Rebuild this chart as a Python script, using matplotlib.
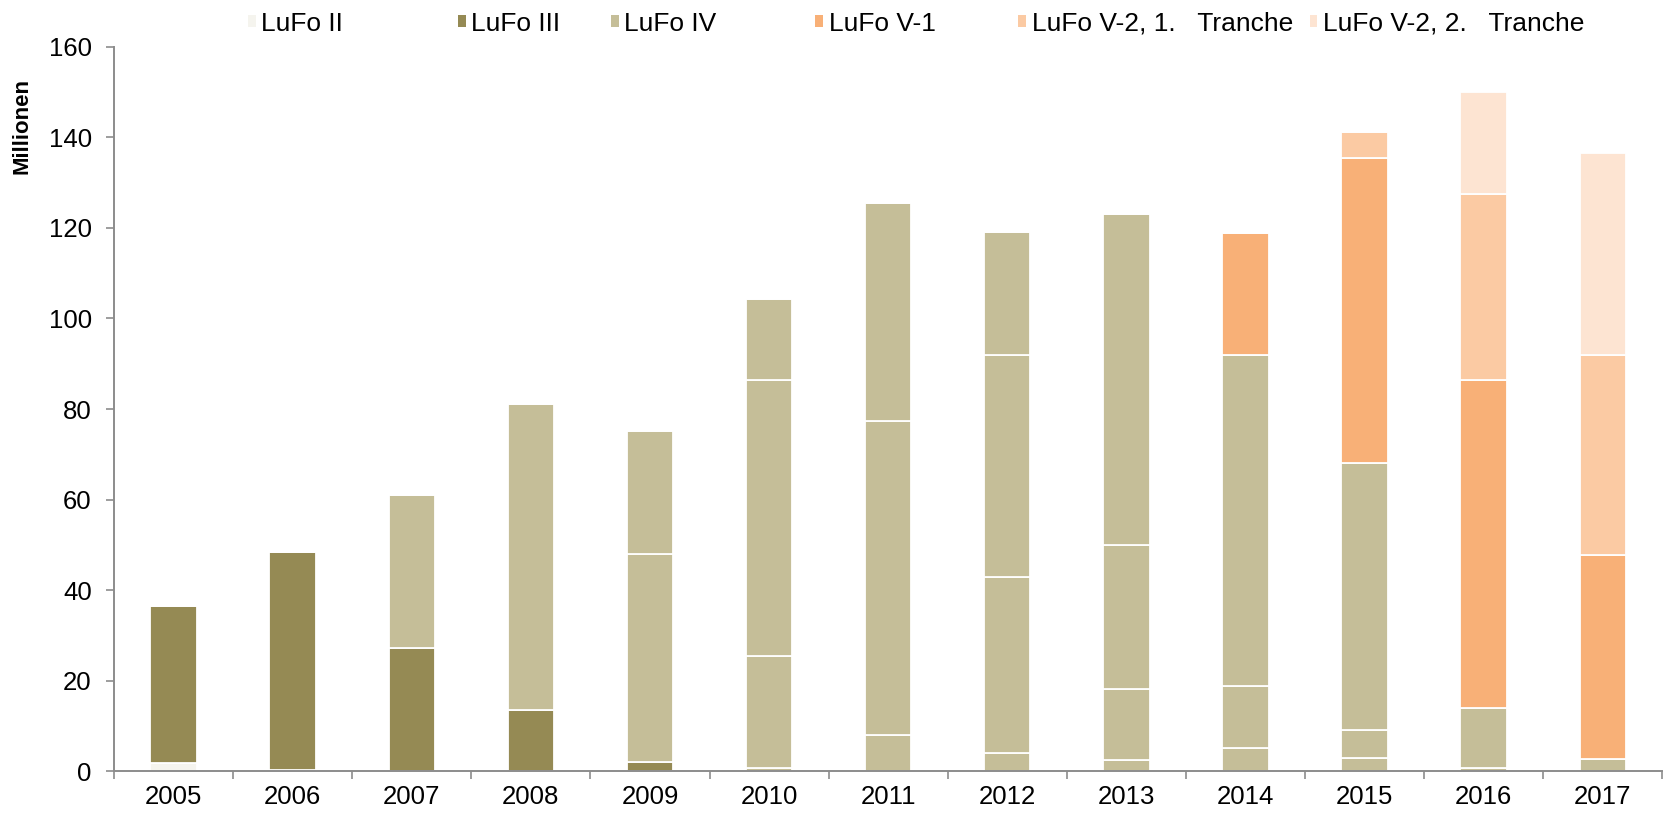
import matplotlib
matplotlib.use("Agg")
import matplotlib.pyplot as plt
import numpy as np
from matplotlib.patches import Patch

years = ["2005", "2006", "2007", "2008", "2009", "2010", "2011",
         "2012", "2013", "2014", "2015", "2016", "2017"]

# stacked segments, bottom to top
lufo2   = [1.7, 0.3, 0, 0, 0, 0, 0, 0, 0, 0, 0, 0, 0]
lufo3   = [34.7, 48.1, 27.1, 13.5, 2.1, 0, 0, 0, 0, 0, 0, 0, 0]
lufo4_a = [0, 0, 33.9, 67.6, 45.8, 0.6, 8.0, 3.9, 2.4, 5.2, 2.8, 0.6, 2.65]
lufo4_b = [0, 0, 0, 0, 27.2, 24.9, 69.3, 39.0, 15.7, 13.6, 6.3, 13.4, 0]
lufo4_c = [0, 0, 0, 0, 0, 61.0, 48.2, 49.1, 31.9, 73.1, 58.9, 0, 0]
lufo4_d = [0, 0, 0, 0, 0, 17.9, 0, 27.1, 73.1, 0, 0, 0, 0]
lufo5_1 = [0, 0, 0, 0, 0, 0, 0, 0, 0, 26.9, 67.4, 72.4, 45.2]
lufo5_2a = [0, 0, 0, 0, 0, 0, 0, 0, 0, 0, 5.7, 41.0, 44.0]
lufo5_2b = [0, 0, 0, 0, 0, 0, 0, 0, 0, 0, 0, 22.7, 44.8]

names = ["LuFo II", "LuFo III", "LuFo IV", "LuFo V-1",
         "LuFo V-2, 1.   Tranche", "LuFo V-2, 2.   Tranche"]
colors = {"LuFo II": "#f5f4ee", "LuFo III": "#958a54", "LuFo IV": "#c5be98",
          "LuFo V-1": "#f8b077", "LuFo V-2, 1.   Tranche": "#fbcaa3",
          "LuFo V-2, 2.   Tranche": "#fde4d2"}

stack = [(lufo2, names[0]), (lufo3, names[1]),
         (lufo4_a, names[2]), (lufo4_b, names[2]), (lufo4_c, names[2]), (lufo4_d, names[2]),
         (lufo5_1, names[3]), (lufo5_2a, names[4]), (lufo5_2b, names[5])]

plt.rcParams['font.family'] = ['Liberation Sans', 'DejaVu Sans']

fig = plt.figure(figsize=(16.64, 8.16), dpi=100)
ax = fig.add_axes([0.0685, 0.055, 0.9305, 0.8875])

x = np.arange(len(years))
bottom = np.zeros(len(years))
for vals, nm in stack:
    v = np.array(vals, dtype=float)
    ax.bar(x, v, bottom=bottom, width=0.39, color=colors[nm],
           edgecolor="white", linewidth=1.3)
    bottom += v

ax.set_xlim(-0.5, len(years) - 0.5)
ax.set_ylim(0, 160)
ax.set_yticks(np.arange(0, 161, 20))
ax.set_xticks(x)
ax.set_xticklabels(years, fontsize=18.5)
ax.set_xticks(np.arange(-0.5, len(years), 1), minor=True)
ax.tick_params(axis="x", which="major", length=0, pad=10)
ax.tick_params(axis="x", which="minor", length=6, width=1.2, color="#8c8c8c", direction="out")
ax.tick_params(axis="y", length=6, width=1.2, color="#8c8c8c", labelsize=18.5, pad=10)
for s in ["top", "right"]:
    ax.spines[s].set_visible(False)
for s in ["left", "bottom"]:
    ax.spines[s].set_color("#8c8c8c")
    ax.spines[s].set_linewidth(1.4)

fig.text(0.0135, 0.845, "Millionen", rotation=90, fontsize=16, fontweight="bold",
         ha="center", va="center")

leg_x = [0.149, 0.275, 0.367, 0.490, 0.612, 0.787]
for nm, lx in zip(names, leg_x):
    fig.legend(handles=[Patch(facecolor=colors[nm], edgecolor="none")], labels=[nm],
               loc="center left", bbox_to_anchor=(lx, 0.971), frameon=False,
               fontsize=19, handlelength=0.3, handleheight=0.3, handletextpad=0.2,
               borderpad=0, borderaxespad=0)

fig.savefig("out.png", dpi=100, facecolor="white")
